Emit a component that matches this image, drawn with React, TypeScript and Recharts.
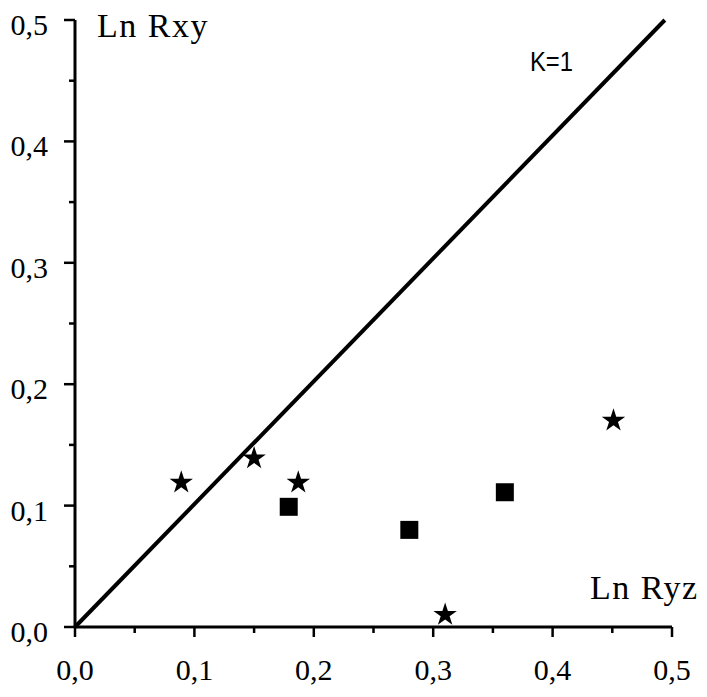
import {
  ReferenceLine,
  Scatter,
  ScatterChart,
  Symbols,
  XAxis,
  YAxis,
} from 'recharts';

const starX = [0.089, 0.15, 0.187, 0.31, 0.451];
const starY = [0.119, 0.139, 0.119, 0.01, 0.17];
const squareX = [0.179, 0.28, 0.36];
const squareY = [0.099, 0.08, 0.111];
const axisTicks = [0, 0.05, 0.1, 0.15, 0.2, 0.25, 0.3, 0.35, 0.4, 0.45, 0.5];
const kLine = [
  { x: 0, y: 0 },
  { x: 0.494, y: 0.5 },
];

const stars = starX.map((x, i) => ({ x, y: starY[i] }));
const squares = squareX.map((x, i) => ({ x, y: squareY[i] }));

const serif = 'Liberation Serif, Times New Roman, serif';
const isMajor = (v: number) => Math.round(v * 100) % 10 === 0;
const fmt = (v: number) => v.toFixed(1).replace('.', ',');

function XTick({ x, y, payload }: any) {
  const major = isMajor(payload.value);
  return (
    <g>
      <line x1={x} x2={x} y1={y} y2={y + (major ? 10 : 6)} stroke="#000" strokeWidth={2.5} />
      {major && (
        <text x={x} y={y + 53} textAnchor="middle" style={{ fontFamily: serif, fontSize: 30 }} fill="#000">
          {fmt(payload.value)}
        </text>
      )}
    </g>
  );
}

function YTick({ x, y, payload }: any) {
  const major = isMajor(payload.value);
  return (
    <g>
      <line x1={x} x2={x - (major ? 11 : 6)} y1={y} y2={y} stroke="#000" strokeWidth={2.5} />
      {major && (
        <text x={x - 27} y={y + 15} textAnchor="end" style={{ fontFamily: serif, fontSize: 30 }} fill="#000">
          {fmt(payload.value)}
        </text>
      )}
    </g>
  );
}

const starShape = (p: any) => <Symbols cx={p.cx} cy={p.cy} type="star" size={170} fill="#000" />;
const squareShape = (p: any) => <Symbols cx={p.cx} cy={p.cy} type="square" size={324} fill="#000" />;

export default function App() {
  return (
    <div style={{ position: 'absolute', left: 0, top: 0, width: 707, height: 697, background: '#fff' }}>
      <ScatterChart width={707} height={697} margin={{ top: 20, right: 35, bottom: 40, left: 0 }}>
        <XAxis
          type="number"
          dataKey="x"
          domain={[0, 0.5]}
          ticks={axisTicks}
          interval={0}
          height={30}
          tickSize={0}
          tickMargin={0}
          tickLine={false}
          tick={<XTick />}
          axisLine={{ stroke: '#000', strokeWidth: 3 }}
          allowDataOverflow
        />
        <YAxis
          type="number"
          dataKey="y"
          domain={[0, 0.5]}
          ticks={axisTicks}
          interval={0}
          width={75}
          tickSize={0}
          tickMargin={0}
          tickLine={false}
          tick={<YTick />}
          axisLine={{ stroke: '#000', strokeWidth: 3 }}
          allowDataOverflow
        />
        <ReferenceLine segment={kLine} stroke="#000" strokeWidth={4} ifOverflow="visible" />
        <Scatter data={stars} shape={starShape} fill="#000" isAnimationActive={false} />
        <Scatter data={squares} shape={squareShape} fill="#000" isAnimationActive={false} />
      </ScatterChart>
      <div style={{ position: 'absolute', left: 97, top: 9, fontFamily: serif, fontSize: 34, letterSpacing: 1.5, lineHeight: 1, whiteSpace: 'nowrap' }}>
        Ln Rxy
      </div>
      <div style={{ position: 'absolute', left: 590, top: 571, fontFamily: serif, fontSize: 34, letterSpacing: 1.5, lineHeight: 1, whiteSpace: 'nowrap' }}>
        Ln Ryz
      </div>
      <div
        style={{
          position: 'absolute',
          left: 530,
          top: 48,
          fontFamily: 'Liberation Sans, Arial, sans-serif',
          fontSize: 28,
          lineHeight: 1,
          whiteSpace: 'nowrap',
          transform: 'scaleX(0.85)',
          transformOrigin: 'left top',
        }}
      >
        K=1
      </div>
    </div>
  );
}
